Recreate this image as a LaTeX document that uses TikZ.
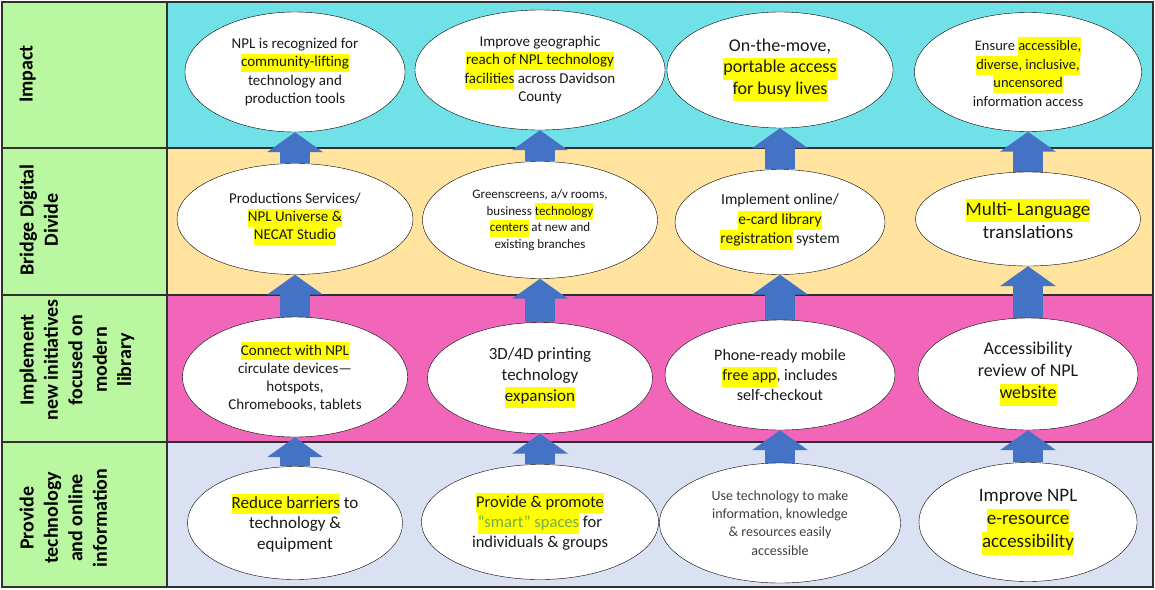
\documentclass[tikz,border=0pt]{standalone}
\usepackage{fontspec}
\setmainfont{Carlito}
\usepackage{tikz}
\usetikzlibrary{shapes.geometric, arrows.meta}

\definecolor{impactcol}{HTML}{71E1E8}
\definecolor{bridgecol}{HTML}{FFE39F}
\definecolor{modcol}{HTML}{F266BA}
\definecolor{providecol}{HTML}{D9E1F3}
\definecolor{titlecol}{HTML}{B9F8A0}
\definecolor{arrowblue}{HTML}{4472C4}
\definecolor{hlyellow}{HTML}{FFFF00}
\definecolor{smartgreen}{HTML}{70AD47}
\definecolor{gridcol}{HTML}{303030}
\definecolor{txtgray}{HTML}{404040}

\newcommand{\hl}[1]{{\setlength{\fboxsep}{0pt}\colorbox{hlyellow}{\strut #1}}}
\newcommand{\setfs}[2]{\fontsize{#1}{#2}\selectfont}

\pgfdeclarelayer{bg}
\pgfdeclarelayer{mid}
\pgfsetlayers{bg,mid,main}

\begin{document}
\begin{tikzpicture}[x=1pt, y=-1pt, thick,
    oval/.style={ellipse, draw, thin, fill=white, inner sep=0pt, align=center, text=black!90},
    rowtitle/.style={rotate=90, anchor=north, align=center, font=\setfs{20}{24.4}\bfseries},
    liftarrow/.style={draw=arrowblue, line width=30pt, -{Triangle[length=20pt 0 1, width=55pt 0 1, fill=arrowblue]}}]
        \useasboundingbox (0,0) rectangle (1155,589);

        % Rows
        \begin{pgfonlayer}{bg}
        \fill[titlecol] (2,2) rectangle (167,587);
        \fill[impactcol] (167,2) rectangle (1153,148);
        \fill[bridgecol] (167,148) rectangle (1153,295);
        \fill[modcol] (167,295) rectangle (1153,442);
        \fill[providecol] (167,442) rectangle (1153,587);
        \draw[gridcol, line width=1.2pt] (2,2) rectangle (1153,587)
            (2,148) -- (1153,148) (2,295) -- (1153,295) (2,442) -- (1153,442)
            (167,2) -- (167,587);
        \end{pgfonlayer}

        % Row titles
        \node[rowtitle] (t1) at (16,74) {Impact};
        \node[rowtitle] (t2) at (16,220) {Bridge Digital\\Divide};
        \node[rowtitle] (t3) at (16,360) {Implement\\new initiatives\\focused on\\modern\\library};
        \node[rowtitle] (t4) at (16,518) {Provide\\technology\\and online\\information};

        % Impact
        \node[oval, minimum width=220pt, minimum height=120pt, font=\setfs{15}{18.3}] (i1) at (295,72)
            {NPL is recognized for\\\hl{community-lifting}\\technology and\\production tools};
        \node[oval, minimum width=250pt, minimum height=120pt, font=\setfs{15}{18.3}] (i2) at (540,70)
            {Improve geographic\\\hl{reach of NPL technology}\\\hl{facilities} across Davidson\\County};
        \node[oval, minimum width=226pt, minimum height=116pt, font=\setfs{18}{21.7}] (i3) at (780,70)
            {On-the-move,\\\hl{portable access}\\\hl{for busy lives}};
        \node[oval, minimum width=227pt, minimum height=119pt, font=\setfs{14.5}{18.7}] (i4) at (1028,72)
            {Ensure \hl{accessible,}\\\hl{diverse, inclusive,}\\\hl{uncensored}\\information access};

        % Bridge Digital Divide
        \node[oval, minimum width=236pt, minimum height=111pt, font=\setfs{15}{18.3}] (b1) at (295,219)
            {Productions Services/\\\hl{NPL Universe \&}\\\hl{NECAT Studio}};
        \node[oval, minimum width=235pt, minimum height=117pt, font=\setfs{13}{16.7}] (b2) at (540,220)
            {Greenscreens, a/v rooms,\\business \hl{technology}\\\hl{centers} at new and\\existing branches};
        \node[oval, minimum width=210pt, minimum height=105pt, font=\setfs{15.5}{19.5}] (b3) at (780,222)
            {Implement online/\\\hl{e-card library}\\\hl{registration} system};
        \node[oval, minimum width=225pt, minimum height=94pt, font=\setfs{19}{23}] (b4) at (1028,219)
            {\hl{Multi- Language}\\translations};

        % Implement new initiatives
        \node[oval, minimum width=225pt, minimum height=120pt, font=\setfs{15}{18.3}] (m1) at (295,377)
            {\hl{Connect with NPL}\\circulate devices---\\hotspots,\\Chromebooks, tablets};
        \node[oval, minimum width=225pt, minimum height=111pt, font=\setfs{17}{21}] (m2) at (540,378)
            {3D/4D printing\\technology\\\hl{expansion}};
        \node[oval, minimum width=230pt, minimum height=110pt, font=\setfs{16}{20}] (m3) at (780,375)
            {Phone-ready mobile\\\hl{free app}, includes\\self-checkout};
        \node[oval, minimum width=220pt, minimum height=112pt, font=\setfs{18}{22}] (m4) at (1028,374)
            {Accessibility\\review of NPL\\\hl{website}};

        % Provide technology
        \node[oval, minimum width=215pt, minimum height=113pt, font=\setfs{17}{20.8}] (p1) at (295,523)
            {\hl{Reduce barriers} to\\technology \&\\equipment};
        \node[oval, minimum width=237pt, minimum height=115pt, font=\setfs{16.5}{20.3}] (p2) at (540,522)
            {\hl{Provide \& promote}\\\hl{\textcolor{smartgreen}{“smart” spaces}} for\\individuals \& groups};
        \node[oval, minimum width=241pt, minimum height=120pt, font=\setfs{14}{18.3}, text=txtgray] (p3) at (780,523)
            {Use technology to make\\information, knowledge\\\& resources easily\\accessible};
        \node[oval, minimum width=218pt, minimum height=119pt, font=\setfs{19}{23}] (p4) at (1028,522)
            {Improve NPL\\\hl{e-resource}\\\hl{accessibility}};

        % Arrows between the rows
        \begin{pgfonlayer}{mid}
        \foreach \col in {1,2,3,4} {
            \draw[liftarrow] (p\col.north) -- (m\col.south);
            \draw[liftarrow] (m\col.north) -- (b\col.south);
            \draw[liftarrow] (b\col.north) -- (i\col.south);
        }
        \end{pgfonlayer}
    \end{tikzpicture}
\end{document}
